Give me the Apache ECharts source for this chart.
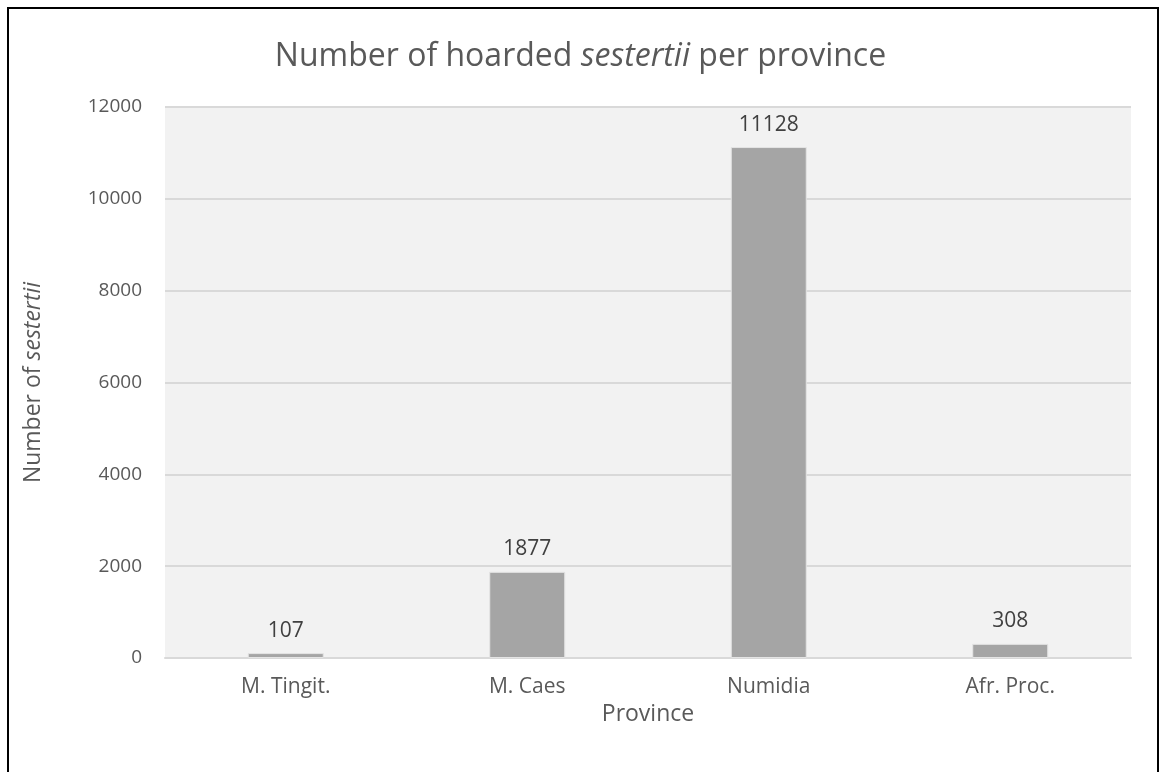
<!DOCTYPE html>
<html>
<head>
<meta charset="utf-8">
<script src="https://cdn.jsdelivr.net/npm/echarts@6/dist/echarts.min.js"></script>
<style>
  html, body { margin: 0; padding: 0; background: #fff; }
  #chart { width: 1161px; height: 772px; }
</style>
</head>
<body>
<div id="chart"></div>
<script>
// Hoarded sestertii counted per North African province
const provinces = ['M. Tingit.', 'M. Caes', 'Numidia', 'Afr. Proc.'];
const sestertiiCounts = [107, 1877, 11128, 308];
const yTicks = [0, 2000, 4000, 6000, 8000, 10000, 12000];

const FONT = '"Open Sans", "Noto Sans", sans-serif';
const TEXT = '#595959';
const chart = echarts.init(document.getElementById('chart'));

chart.setOption({
  animation: false,
  backgroundColor: '#ffffff',
  title: {
    text: '{n|Number of hoarded }{i|sestertii}{n| per province}',
    left: 'center',
    top: 36,
    textStyle: {
      fontWeight: 'normal',
      rich: {
        n: { fontFamily: FONT, fontSize: 32, fontWeight: 'normal', color: TEXT },
        i: { fontFamily: FONT, fontSize: 32, fontWeight: 'normal', fontStyle: 'italic', color: TEXT }
      }
    }
  },
  graphic: [{
    type: 'rect',
    shape: { x: 8, y: 8, width: 1150, height: 800 },
    style: { fill: 'none', stroke: '#000000', lineWidth: 2 },
    z: 100
  }],
  grid: {
    left: 165, right: 30, top: 107, bottom: 114,
    show: true,
    backgroundColor: '#f2f2f2',
    borderWidth: 0
  },
  xAxis: {
    type: 'category',
    data: provinces,
    name: 'Province',
    nameLocation: 'middle',
    nameGap: 40,
    nameTextStyle: { fontFamily: FONT, fontSize: 23, color: TEXT },
    axisLine: { show: true, lineStyle: { color: '#d9d9d9', width: 2 } },
    axisTick: { show: false },
    axisLabel: { fontFamily: FONT, fontSize: 21, color: TEXT, margin: 19 }
  },
  yAxis: {
    type: 'value',
    min: 0,
    max: yTicks[yTicks.length - 1],
    interval: 2000,
    name: '{n|Number of }{i|sestertii}',
    nameLocation: 'middle',
    nameGap: 120,
    nameRotate: 90,
    nameTextStyle: {
      rich: {
        n: { fontFamily: FONT, fontSize: 23, color: TEXT },
        i: { fontFamily: FONT, fontSize: 23, fontStyle: 'italic', color: TEXT }
      }
    },
    axisLine: { show: false },
    axisTick: { show: false },
    splitLine: { lineStyle: { color: '#d9d9d9', width: 2 } },
    axisLabel: {
      fontFamily: FONT, fontSize: 19, color: TEXT, margin: 23,
      formatter: v => yTicks.includes(v) ? String(v) : ''
    }
  },
  series: [{
    type: 'bar',
    data: sestertiiCounts,
    barWidth: 76,
    itemStyle: { color: '#a5a5a5', borderColor: '#e4e4e4', borderWidth: 1 },
    label: {
      show: true,
      position: 'top',
      distance: 12,
      fontFamily: FONT,
      fontSize: 21,
      color: '#404040'
    }
  }]
});
</script>
</body>
</html>
